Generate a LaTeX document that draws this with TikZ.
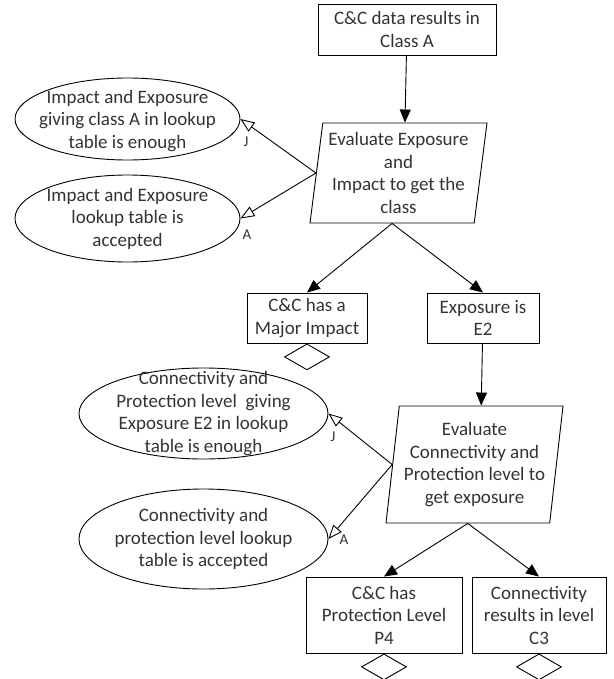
\documentclass[tikz,border=0pt]{standalone}
\usepackage{fontspec}
\setmainfont{Carlito}
\usepackage{tikz}
\usetikzlibrary{
  shapes.geometric,
  arrows.meta}

\begin{document}
\begin{tikzpicture}[x=1pt,y=-1pt,line width=0.9pt,
  font=\fontsize{19}{22.5}\selectfont, text=black!80]
\tikzset{
  box/.style={draw, rectangle, align=center, inner sep=0pt},
  para/.style={draw, trapezium, trapezium left angle=81, trapezium right angle=99,
    trapezium stretches body, align=center, inner xsep=0pt, inner ysep=0pt},
  ell/.style={draw, ellipse, inner sep=0pt},
  dia/.style={draw, diamond, inner sep=0pt, minimum width=45, minimum height=26, anchor=north},
  flow/.style={-{Triangle[length=13pt,width=11pt]}},
  assume/.style={-{Triangle[open,length=14pt,width=11pt]}},
  tag/.style={font=\fontsize{15}{17}\selectfont},
}
\useasboundingbox (0,0) rectangle (613,679);

\node[box, minimum width=178, minimum height=51] (data) at (407,29.5) {C\&C data results in\\Class A};
\node[para, minimum width=177, minimum height=100] (evalA) at (398.5,173)
  {Evaluate Exposure\\and\\Impact to get the\\class};
\node[ell, minimum width=225, minimum height=82] (justA) at (127.5,119) {};
\node (justAt) at (127.5,121) [align=center] {Impact and Exposure\\giving class A in lookup\\table is enough};
\node[ell, minimum width=225, minimum height=87] (accA) at (127.5,218.5) {};
\node (accAt) at (accA) [align=center] {Impact and Exposure\\lookup table is\\accepted};

\node[box, minimum width=120, minimum height=50] (major) at (307,318) {C\&C has a\\Major Impact};
\node[box, minimum width=112, minimum height=50] (expo) at (483,318) {Exposure is\\E2};
\node[dia] (dmajor) at (major.south) {};

\node[para, minimum width=177, minimum height=117] (evalE) at (474.5,464.5)
  {Evaluate\\Connectivity and\\Protection level to\\get exposure};
\node[ell, minimum width=249, minimum height=91] (justE) at (203.5,413.5) {};
\node (justEt) at (justE) [align=center] {Connectivity and\\Protection level\ \ giving\\Exposure E2 in lookup\\table is enough};
\node[ell, minimum width=249, minimum height=100] (accE) at (203.5,539) {};
\node (accEt) at (accE) [align=center] {Connectivity and\\protection level lookup\\table is accepted};

\node[box, minimum width=156, minimum height=76] (prot) at (384,615) {C\&C has\\Protection Level\\P4};
\node[box, minimum width=134, minimum height=76] (conn) at (539,615) {Connectivity\\results in level\\C3};
\node[dia] (dprot) at (prot.south) {};
\node[dia] (dconn) at (conn.south) {};

\draw[flow] (data) -- (evalA.top side);
\draw[flow] (evalA.bottom side) -- (major.north);
\draw[flow] (evalA.bottom side) -- (expo.north);
\draw[assume] (evalA.left side) -- (justA.east);
\draw[assume] (evalA.left side) -- (accA.east);
\node[tag] (jA) at (246,142) {J};
\node[tag] (aA) at (247,235) {A};

\draw[flow] (expo) -- (evalE.top side);
\draw[flow] (evalE.bottom side) -- (prot.north);
\draw[flow] (evalE.bottom side) -- (conn.north);
\draw[assume] (evalE.left side) -- (justE.east);
\draw[assume] (evalE.left side) -- (accE.east);
\node[tag] (jE) at (333,437) {J};
\node[tag] (aE) at (344,540) {A};
\end{tikzpicture}
\end{document}
